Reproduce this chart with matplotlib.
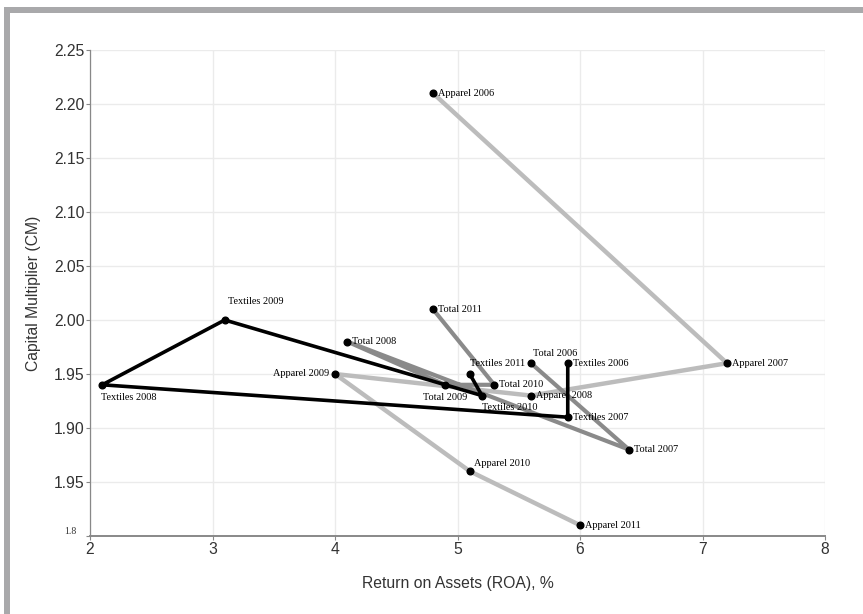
import matplotlib
matplotlib.use("Agg")
import matplotlib.pyplot as plt
from matplotlib.patches import Rectangle
from matplotlib.transforms import ScaledTranslation

# ---- data ----
years = [2006, 2007, 2008, 2009, 2010, 2011]
apparel_roa = [4.8, 7.2, 5.6, 4.0, 5.1, 6.0]
apparel_cm = [2.21, 1.96, 1.93, 1.95, 1.86, 1.81]
total_roa = [5.6, 6.4, 4.1, 4.9, 5.3, 4.8]
total_cm = [1.96, 1.88, 1.98, 1.94, 1.94, 2.01]
textiles_roa = [5.9, 5.9, 2.1, 3.1, 5.2, 5.1]
textiles_cm = [1.96, 1.91, 1.94, 2.00, 1.93, 1.95]

x_ticks = [2, 3, 4, 5, 6, 7, 8]
y_ticks = [1.80, 1.85, 1.90, 1.95, 2.00, 2.05, 2.10, 2.15, 2.20, 2.25]
y_tick_labels = ["1.8", "1.95", "1.90", "1.95", "2.00", "2.05", "2.10", "2.15", "2.20", "2.25"]

# label placement: (dx px, dy px, ha)
apparel_lbl = [(5, 0, "left"), (5, 0, "left"), (5, 0, "left"), (-6, 0, "right"), (4, 8, "left"), (5, 0, "left")]
total_lbl = [(2, 10, "left"), (5, 0, "left"), (5, 0, "left"), (0, -13, "center"), (5, 0, "left"), (5, 0, "left")]
textiles_lbl = [(5, 0, "left"), (5, 0, "left"), (-1, -13, "left"), (3, 18, "left"), (0, -12, "left"), (0, 10, "left")]

W, H = 863, 614
fig = plt.figure(figsize=(W / 100, H / 100), dpi=100)
fig.patch.set_facecolor("white")

# gray frame bands
fig.patches.append(Rectangle((4 / W, 0), 6 / W, 1 - 7 / H, transform=fig.transFigure,
                             facecolor="#a9a9ab", edgecolor="none", zorder=0))
fig.patches.append(Rectangle((4 / W, 1 - 13 / H), 1, 6 / H, transform=fig.transFigure,
                             facecolor="#a9a9ab", edgecolor="none", zorder=0))

ax = fig.add_axes([90 / W, 1 - 536 / H, (825 - 90) / W, (536 - 50) / H])
ax.set_xlim(2, 8)
ax.set_ylim(1.80, 2.25)

ax.set_xticks(x_ticks)
ax.set_xticklabels([str(v) for v in x_ticks])
ax.set_yticks(y_ticks)
ax.set_yticklabels(y_tick_labels)

ax.grid(True, color="#ebebeb", linewidth=1.0, zorder=0)
ax.set_axisbelow(True)
for s in ["top", "right"]:
    ax.spines[s].set_visible(False)
ax.spines["left"].set_color("#888888")
ax.spines["bottom"].set_color("#888888")
ax.spines["bottom"].set_linewidth(1.4)
ax.spines["left"].set_linewidth(0.9)
ax.tick_params(axis="both", length=3, width=0.8, color="#888888", pad=1,
               labelsize=11.3, labelcolor="#333333")
for lab in ax.get_xticklabels() + ax.get_yticklabels():
    lab.set_fontfamily("Liberation Sans")
last = ax.get_yticklabels()[0]
last.set_fontfamily("Liberation Serif")
last.set_fontsize(7)
last.set_verticalalignment("bottom")
last.set_transform(last.get_transform() + ScaledTranslation(-0.08, 0, fig.dpi_scale_trans))

ax.set_xlabel("Return on Assets (ROA), %", fontsize=11.3, color="#333333",
              family="Liberation Sans", labelpad=14)
ax.set_ylabel("Capital Multiplier (CM)", fontsize=11.3, color="#333333",
              family="Liberation Sans", labelpad=9)

series = [
    ("Apparel", apparel_roa, apparel_cm, "#bcbcbc", 3.2, 1, apparel_lbl),
    ("Total", total_roa, total_cm, "#8a8a8a", 3.0, 2, total_lbl),
    ("Textiles", textiles_roa, textiles_cm, "#000000", 2.6, 3, textiles_lbl),
]
for name, xs, ys, col, lw, z, lbls in series:
    ax.plot(xs, ys, color=col, linewidth=lw, solid_capstyle="round", zorder=z)
for name, xs, ys, col, lw, z, lbls in series:
    ax.plot(xs, ys, linestyle="none", marker="o", markersize=4.8, color="black", zorder=5)
    for yr, x, y, (dx, dy, ha) in zip(years, xs, ys, lbls):
        ax.annotate(f"{name} {yr}", (x, y), xytext=(dx, dy), textcoords="offset pixels",
                    ha=ha, va="center", fontsize=7.4, family="Liberation Serif",
                    color="black", zorder=6)

fig.savefig("out.png", dpi=100)
